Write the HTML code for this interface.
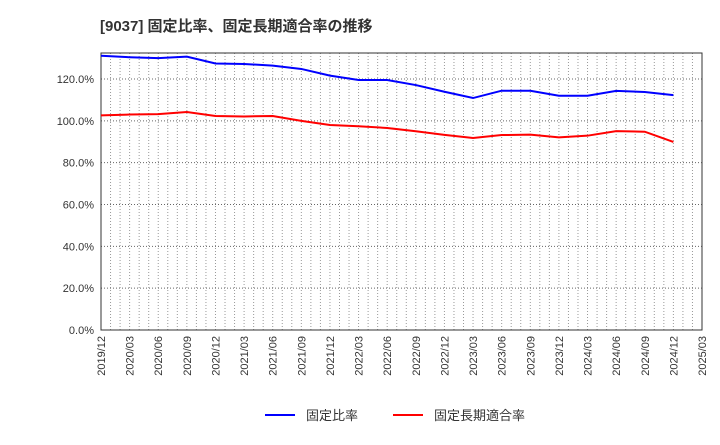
<!DOCTYPE html>
<html><head><meta charset="utf-8"><style>
body{margin:0;background:#fff;}
svg text{font-family:"Liberation Sans","Noto Sans CJK JP",sans-serif;}
</style></head><body>
<svg id="chart" width="720" height="440">
<text x="100" y="31" font-size="15" font-weight="bold" fill="#333">[9037]  固定比率、固定長期適合率の推移</text>
<g id="grid"></g>
<g id="axes"></g>
<g id="series"></g>
<g>
<g><line x1="265" y1="415" x2="295" y2="415" stroke="#0000ff" stroke-width="2"/><text x="306" y="420" font-size="13" fill="#333">固定比率</text></g>
<g><line x1="393" y1="415" x2="423" y2="415" stroke="#ff0000" stroke-width="2"/><text x="434" y="420" font-size="13" fill="#333">固定長期適合率</text></g>
</g>
</svg>
<script>
const categories=["2019/12","2020/03","2020/06","2020/09","2020/12","2021/03","2021/06","2021/09","2021/12","2022/03","2022/06","2022/09","2022/12","2023/03","2023/06","2023/09","2023/12","2024/03","2024/06","2024/09","2024/12","2025/03"];
const fixedRatio=[131.1,130.4,130.0,130.7,127.4,127.2,126.4,124.8,121.6,119.5,119.5,117.1,113.9,110.9,114.4,114.4,112.0,112.0,114.3,113.8,112.3];
const longTermFitRatio=[102.6,103.0,103.2,104.2,102.3,102.1,102.3,100.0,98.0,97.4,96.6,95.0,93.3,91.8,93.2,93.4,92.1,92.9,95.1,94.8,89.9];
const yTicks=[0,20,40,60,80,100,120];
const yTickLabels=["0.0%","20.0%","40.0%","60.0%","80.0%","100.0%","120.0%"];
const L=101,R=702,T=53,B=330;
const NS="http://www.w3.org/2000/svg";
const xq=i=>L+(R-L)*i/(categories.length-1);
const y=v=>B-v*(B-79)/120;
function mk(tag,attrs,parent){const e=document.createElementNS(NS,tag);for(const k in attrs)e.setAttribute(k,attrs[k]);parent.appendChild(e);return e;}
const grid=document.getElementById('grid'),axes=document.getElementById('axes'),series=document.getElementById('series');
for(let m=1;m<(categories.length-1)*3;m++){const x=L+(R-L)*m/((categories.length-1)*3);
const l=mk('line',{x1:x,y1:T,x2:x,y2:B,stroke:'#999','stroke-dasharray':'1,2','stroke-width':1},grid);

}
yTicks.forEach((v,i)=>{const yy=y(v);
if(v>0){const g=mk('line',{x1:L,y1:yy,x2:R,y2:yy,stroke:'#666','stroke-dasharray':'1,2','stroke-width':1},grid);

}
const t=mk('text',{x:L-7,y:yy+4,'font-size':11,'text-anchor':'end',fill:'#333'},axes);t.textContent=yTickLabels[i];

});
mk('rect',{x:L,y:T,width:R-L,height:B-T,fill:'none',stroke:'#333','stroke-width':1},axes);
categories.forEach((c,i)=>{const x=xq(i);
const t=mk('text',{x:0,y:0,'font-size':11,'text-anchor':'end',fill:'#333',transform:`translate(${x+4},${B+6}) rotate(-90)`},axes);t.textContent=c;

});
function line(data,color,name){const p=mk('polyline',{points:data.map((v,i)=>xq(i)+','+y(v)).join(' '),fill:'none',stroke:color,'stroke-width':2},series);

}
line(fixedRatio,'#0000ff','line-fixed-ratio');
line(longTermFitRatio,'#ff0000','line-long-term-fit-ratio');
</script>
</body></html>
